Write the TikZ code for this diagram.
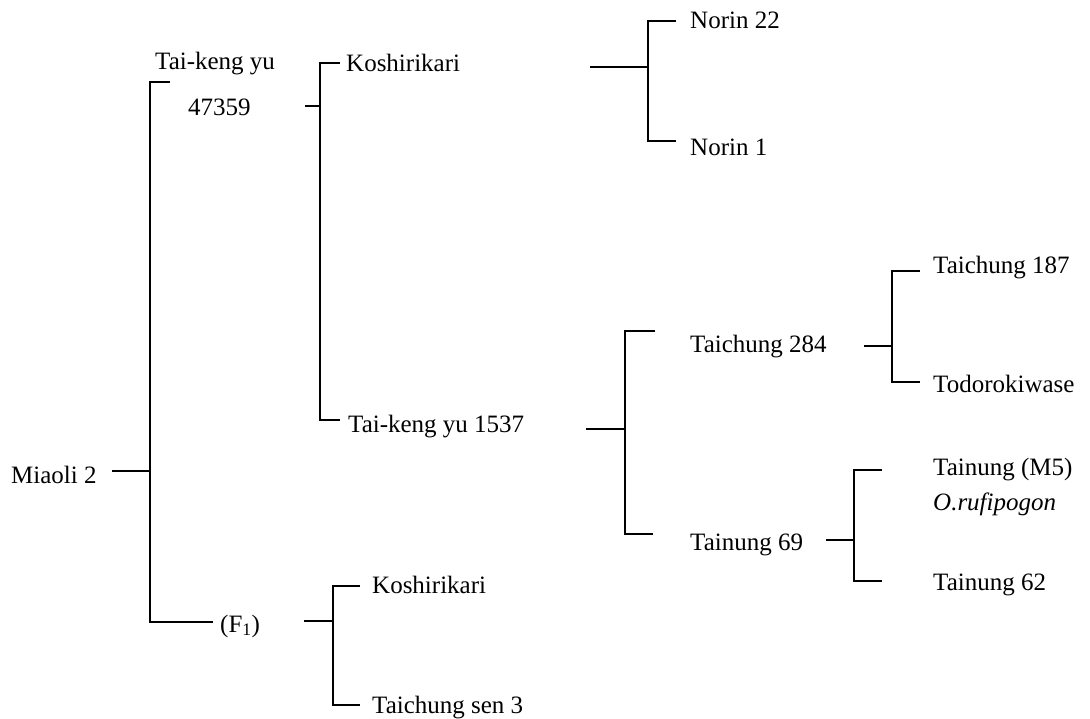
\documentclass[tikz,border=0pt]{standalone}
\usepackage{fontspec}
\setmainfont{Liberation Serif}
\begin{document}
\begin{tikzpicture}[x=1pt,y=-1pt,
  lbl/.style={anchor=base west,inner sep=0pt,font=\fontsize{25}{30}\selectfont},
  br/.style={line width=1.6pt,line cap=butt}]
\useasboundingbox (0,0) rectangle (1090,718);
% labels
\node[lbl] (miaoli) at (11,483) {Miaoli 2};
\node[lbl] (tky) at (155,69) {Tai-keng yu};
\node[lbl] (n47) at (188,115) {47359};
\node[lbl] (f1) at (220,632) {(F\textsubscript{1})};
\node[lbl] (kosh1) at (346,71) {Koshirikari};
\node[lbl] (tky1537) at (348,432) {Tai-keng yu 1537};
\node[lbl] (kosh2) at (372,593) {Koshirikari};
\node[lbl] (tcs3) at (372,713) {Taichung sen 3};
\node[lbl] (n22) at (690,28) {Norin 22};
\node[lbl] (n1) at (690,155) {Norin 1};
\node[lbl] (tc284) at (690,352) {Taichung 284};
\node[lbl] (tn69) at (690,550) {Tainung 69};
\node[lbl] (tc187) at (933,273) {Taichung 187};
\node[lbl] (todo) at (933,392) {Todorokiwase};
\node[lbl] (tnm5) at (933,475) {Tainung (M5)};
\node[lbl] (oruf) at (933,510) {\itshape O.rufipogon};
\node[lbl] (tn62) at (933,590) {Tainung 62};
% bracket coordinates
\coordinate (a0) at (112,471); \coordinate (a1) at (150,471);
\coordinate (a2) at (170,82);  \coordinate (a3) at (213,622);
\coordinate (b0) at (305,106); \coordinate (b1) at (320,106);
\coordinate (b2) at (340,63);  \coordinate (b3) at (340,420);
\coordinate (c0) at (304,621); \coordinate (c1) at (333,621);
\coordinate (c2) at (360,586); \coordinate (c3) at (360,705);
\coordinate (d0) at (590,67);  \coordinate (d1) at (648,67);
\coordinate (d2) at (676,21);  \coordinate (d3) at (676,141);
\coordinate (e0) at (586,429); \coordinate (e1) at (625,429);
\coordinate (e2) at (655,331); \coordinate (e3) at (653,534);
\coordinate (f0) at (864,346); \coordinate (f1c) at (892,346);
\coordinate (f2) at (920,271); \coordinate (f3) at (920,382);
\coordinate (g0) at (826,540); \coordinate (g1) at (854,540);
\coordinate (g2) at (882,470); \coordinate (g3) at (882,581);
% brackets
\foreach \p/\q/\r/\s in {a0/a1/a2/a3,b0/b1/b2/b3,c0/c1/c2/c3,d0/d1/d2/d3,e0/e1/e2/e3,f0/f1c/f2/f3,g0/g1/g2/g3}{
  \draw[br] (\p) -- (\q);
  \draw[br] (\r) -| (\q) |- (\s);
}
\end{tikzpicture}
\end{document}
